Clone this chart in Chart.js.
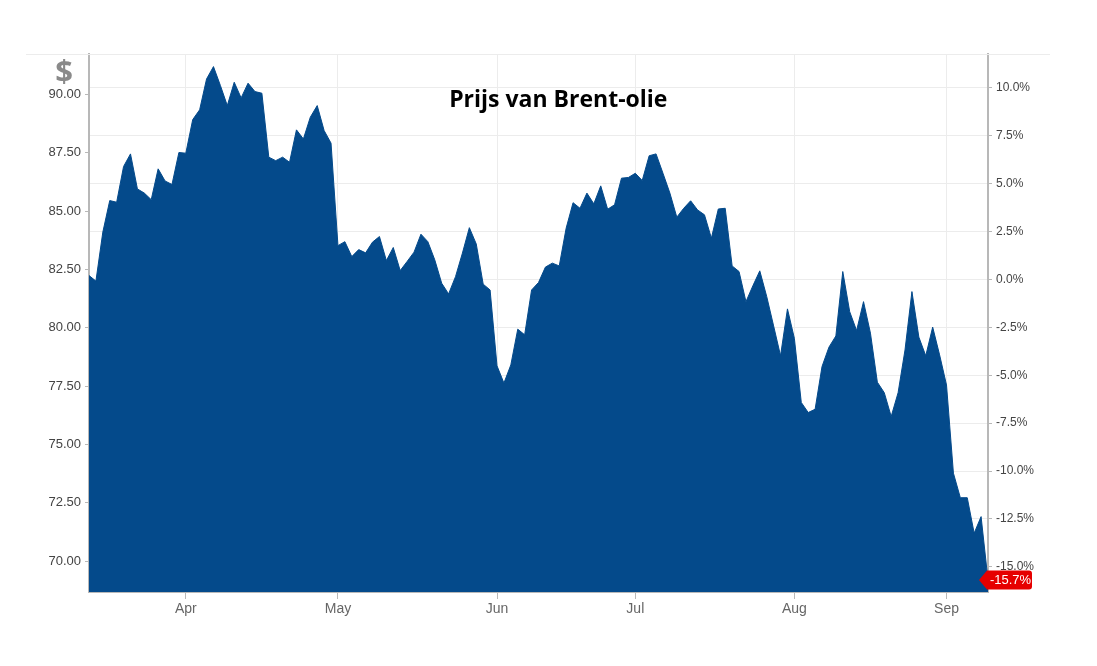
<!DOCTYPE html>
<html>
<head>
<meta charset="utf-8">
<script src="https://cdn.jsdelivr.net/npm/chart.js@4.4.1/dist/chart.umd.min.js"></script>
<style>
  html, body { margin: 0; padding: 0; background: #fff; }
  canvas { display: block; }
</style>
</head>
<body>
<canvas id="chartBrent" width="1097" height="666"></canvas>
<script>
// Brent, slotkoersen per handelsdag (12 mrt - 10 sep)
const dates = [
  "2024-03-12","2024-03-13","2024-03-14","2024-03-15","2024-03-18","2024-03-19","2024-03-20","2024-03-21","2024-03-22",
  "2024-03-25","2024-03-26","2024-03-27","2024-03-28","2024-03-29",
  "2024-04-01","2024-04-02","2024-04-03","2024-04-04","2024-04-05","2024-04-08","2024-04-09","2024-04-10","2024-04-11","2024-04-12",
  "2024-04-15","2024-04-16","2024-04-17","2024-04-18","2024-04-19","2024-04-22","2024-04-23","2024-04-24","2024-04-25","2024-04-26",
  "2024-04-29","2024-04-30",
  "2024-05-01","2024-05-02","2024-05-03","2024-05-06","2024-05-07","2024-05-08","2024-05-09","2024-05-10","2024-05-13","2024-05-14",
  "2024-05-15","2024-05-16","2024-05-17","2024-05-20","2024-05-21","2024-05-22","2024-05-23","2024-05-24","2024-05-27","2024-05-28",
  "2024-05-29","2024-05-30","2024-05-31",
  "2024-06-03","2024-06-04","2024-06-05","2024-06-06","2024-06-07","2024-06-10","2024-06-11","2024-06-12","2024-06-13","2024-06-14",
  "2024-06-17","2024-06-18","2024-06-19","2024-06-20","2024-06-21","2024-06-24","2024-06-25","2024-06-26","2024-06-27","2024-06-28",
  "2024-07-01","2024-07-02","2024-07-03","2024-07-04","2024-07-05","2024-07-08","2024-07-09","2024-07-10","2024-07-11","2024-07-12",
  "2024-07-15","2024-07-16","2024-07-17","2024-07-18","2024-07-19","2024-07-22","2024-07-23","2024-07-24","2024-07-25","2024-07-26",
  "2024-07-29","2024-07-30","2024-07-31",
  "2024-08-01","2024-08-02","2024-08-05","2024-08-06","2024-08-07","2024-08-08","2024-08-09","2024-08-12","2024-08-13","2024-08-14",
  "2024-08-15","2024-08-16","2024-08-19","2024-08-20","2024-08-21","2024-08-22","2024-08-23","2024-08-26","2024-08-27","2024-08-28",
  "2024-08-29","2024-08-30",
  "2024-09-02","2024-09-03","2024-09-04","2024-09-05","2024-09-06","2024-09-09","2024-09-10"
];

const prices = [
  82.24, 82.00, 84.10, 85.45, 85.38, 86.91, 87.45, 85.95, 85.77, 85.49, 86.81, 86.29, 86.14, 87.51,
  87.48, 88.92, 89.34, 90.66, 91.19, 90.38, 89.52, 90.52, 89.85, 90.48, 90.12, 90.05, 87.31, 87.16,
  87.31, 87.09, 88.48, 88.09, 89.02, 89.52, 88.45, 87.91,
  83.52, 83.69, 83.05, 83.35, 83.21, 83.67, 83.91, 82.88, 83.44, 82.45, 82.84, 83.24, 84.01, 83.69,
  82.91, 81.91, 81.45, 82.19, 83.20, 84.29, 83.59, 81.87, 81.62,
  78.37, 77.63, 78.41, 79.94, 79.70, 81.62, 81.94, 82.60, 82.77, 82.65, 84.27, 85.36, 85.12, 85.77,
  85.31, 86.08, 85.08, 85.27, 86.41, 86.44,
  86.62, 86.31, 87.37, 87.45, 86.62, 85.77, 84.74, 85.12, 85.44, 85.05, 84.84, 83.84, 85.09, 85.12,
  82.65, 82.41, 81.12, 81.80, 82.44, 81.34, 80.08, 78.80, 80.81,
  79.55, 76.80, 76.37, 76.51, 78.34, 79.17, 79.65, 82.41, 80.69, 79.88, 81.12, 79.77, 77.67, 77.22,
  76.20, 77.22, 79.05, 81.55, 79.60, 78.80, 80.03, 78.84,
  77.55, 73.77, 72.72, 72.72, 71.20, 71.91, 69.19
];

// referentiekoers voor de procentas (0,0%)
const basePrice = 82.07;

const priceTicks = [70, 72.5, 75, 77.5, 80, 82.5, 85, 87.5, 90];
const pctTicks = [-15, -12.5, -10, -7.5, -5, -2.5, 0, 2.5, 5, 7.5, 10];
const monthNames = ["Jan", "Feb", "Mar", "Apr", "May", "Jun", "Jul", "Aug", "Sep", "Oct", "Nov", "Dec"];

const priceMin = 68.68;
const priceMax = 91.73;
const toPct = (p) => (p / basePrice - 1) * 100;

function monthLabel(i) {
    if (i === 0) return "";
    const m = dates[i].slice(5, 7);
    const prev = dates[i - 1].slice(5, 7);
    return m !== prev ? monthNames[parseInt(m, 10) - 1] : "";
}

// extra's: titel, dollarteken, bovenlijn en rood label bij laatste koers
const extras = {
    id: "extras",
    beforeDatasetsDraw(chart) {
        const { ctx, chartArea } = chart;
        ctx.save();
        ctx.strokeStyle = "#ececec";
        ctx.lineWidth = 1;
        ctx.beginPath();
        ctx.moveTo(26, chartArea.top + 0.5);
        ctx.lineTo(1050, chartArea.top + 0.5);
        ctx.stroke();
        ctx.restore();
    },
    afterDraw(chart) {
        const { ctx, chartArea } = chart;
        const yScale = chart.scales.y;
        ctx.save();

        ctx.fillStyle = "#000";
        ctx.font = "bold 23px 'Open Sans', sans-serif";
        ctx.textAlign = "center";
        ctx.textBaseline = "middle";
        const tx = chartArea.left + (chartArea.right - chartArea.left) * 0.522;
        ctx.fillText("Prijs van Brent-olie", tx, chartArea.top + 46);

        ctx.fillStyle = "#8a8a8a";
        ctx.font = "bold 31px 'Open Sans', sans-serif";
        ctx.fillText("$", chartArea.left - 25, chartArea.top + 19);

        const last = prices[prices.length - 1];
        const y = yScale.getPixelForValue(last);
        const r = chartArea.right;
        const x0 = r - 1, x1 = r + 44, h = 19, rad = 3;
        ctx.fillStyle = "#e60000";
        ctx.beginPath();
        ctx.moveTo(r - 9, y);
        ctx.lineTo(x0, y - h / 2);
        ctx.lineTo(x1 - rad, y - h / 2);
        ctx.quadraticCurveTo(x1, y - h / 2, x1, y - h / 2 + rad);
        ctx.lineTo(x1, y + h / 2 - rad);
        ctx.quadraticCurveTo(x1, y + h / 2, x1 - rad, y + h / 2);
        ctx.lineTo(x0, y + h / 2);
        ctx.closePath();
        ctx.fill();

        ctx.fillStyle = "#fff";
        ctx.font = "13px 'Liberation Sans', Arial, sans-serif";
        ctx.textAlign = "center";
        ctx.fillText(toPct(last).toFixed(1) + "%", (x0 + x1) / 2 + 1, y + 0.5);
        ctx.restore();
    }
};

document.addEventListener("DOMContentLoaded", function () {
    const ctxBrent = document.getElementById("chartBrent").getContext("2d");

    new Chart(ctxBrent, {
        type: "line",
        data: {
            labels: dates,
            datasets: [
                {
                    label: "Brent",
                    data: prices,
                    yAxisID: "y",
                    backgroundColor: "#044a8b",
                    borderColor: "#044a8b",
                    borderWidth: 1,
                    pointRadius: 0,
                    tension: 0,
                    fill: "start",
                },
            ],
        },
        options: {
            responsive: false,
            animation: false,
            layout: { padding: { top: 54, left: 0, right: 0, bottom: 0 } },
            plugins: {
                legend: { display: false },
                tooltip: { enabled: false },
            },
            scales: {
                x: {
                    type: "category",
                    offset: false,
                    border: { color: "#b8b8b8", width: 2 },
                    grid: {
                        color: (c) => (c.tick && c.tick.label ? "#ececec" : "rgba(0,0,0,0)"),
                        tickColor: (c) => (c.tick && c.tick.label ? "#b8b8b8" : "rgba(0,0,0,0)"),
                        tickLength: 7,
                    },
                    ticks: {
                        autoSkip: false,
                        maxRotation: 0,
                        padding: 2,
                        color: "#666",
                        font: { family: "'Liberation Sans', Arial, sans-serif", size: 14 },
                        callback: function (value, index) {
                            return monthLabel(index);
                        },
                    },
                    afterFit: function (scale) {
                        scale.height = 74;
                        scale.paddingLeft = 0;
                        scale.paddingRight = 0;
                    },
                },
                y: {
                    position: "left",
                    min: priceMin,
                    max: priceMax,
                    border: { color: "#b8b8b8", width: 2 },
                    grid: { drawOnChartArea: false, tickColor: "#b8b8b8", tickLength: 4 },
                    ticks: {
                        padding: 4,
                        color: "#444",
                        font: { family: "'Liberation Sans', Arial, sans-serif", size: 13 },
                        callback: (v) => Number(v).toFixed(2),
                    },
                    afterBuildTicks: function (scale) {
                        scale.ticks = priceTicks.map((v) => ({ value: v }));
                    },
                    afterFit: function (scale) {
                        scale.width = 89;
                        scale.paddingTop = 0;
                        scale.paddingBottom = 0;
                    },
                },
                pct: {
                    position: "right",
                    min: toPct(priceMin),
                    max: toPct(priceMax),
                    border: { color: "#b8b8b8", width: 2 },
                    grid: { color: "#ececec", tickColor: "#b8b8b8", tickLength: 4 },
                    ticks: {
                        padding: 4,
                        color: "#444",
                        font: { family: "'Liberation Sans', Arial, sans-serif", size: 12 },
                        callback: (v) => Number(v).toFixed(1) + "%",
                    },
                    afterBuildTicks: function (scale) {
                        scale.ticks = pctTicks.map((v) => ({ value: v }));
                    },
                    afterFit: function (scale) {
                        scale.width = 109;
                        scale.paddingTop = 0;
                        scale.paddingBottom = 0;
                    },
                },
            },
        },
        plugins: [extras],
    });
});
</script>
</body>
</html>
